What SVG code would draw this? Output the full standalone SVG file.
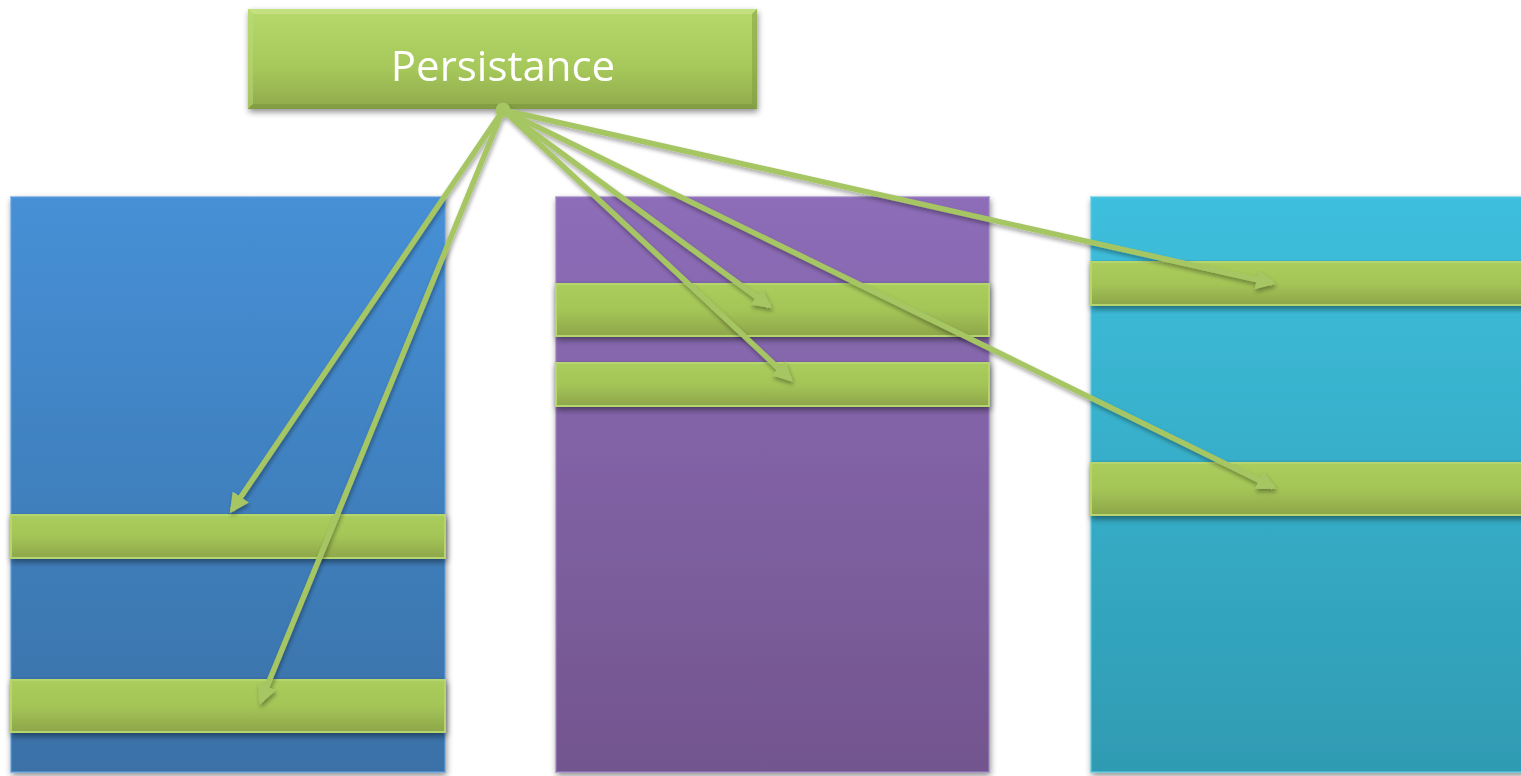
<svg xmlns="http://www.w3.org/2000/svg" width="1521" height="776" viewBox="0 0 1521 776">
  <defs>
    <linearGradient id="gBlue" x1="0" y1="0" x2="0" y2="1">
      <stop offset="0" stop-color="#4690d6"/>
      <stop offset="1" stop-color="#3a71a7"/>
    </linearGradient>
    <linearGradient id="gPurple" x1="0" y1="0" x2="0" y2="1">
      <stop offset="0" stop-color="#8d6db8"/>
      <stop offset="1" stop-color="#72558e"/>
    </linearGradient>
    <linearGradient id="gCyan" x1="0" y1="0" x2="0" y2="1">
      <stop offset="0" stop-color="#3ebfdd"/>
      <stop offset="1" stop-color="#2f9bb2"/>
    </linearGradient>
    <linearGradient id="gBar" x1="0" y1="0" x2="0" y2="1">
      <stop offset="0" stop-color="#aacd5c"/>
      <stop offset="0.5" stop-color="#a4c557"/>
      <stop offset="1" stop-color="#8ea64a"/>
    </linearGradient>
    <linearGradient id="gHead" x1="0" y1="0" x2="0" y2="1">
      <stop offset="0" stop-color="#b7d96b"/>
      <stop offset="0.6" stop-color="#a6c75a"/>
      <stop offset="1" stop-color="#8faa4c"/>
    </linearGradient>
    <filter id="shadow" x="-10%" y="-10%" width="120%" height="130%">
      <feGaussianBlur in="SourceAlpha" stdDeviation="3"/>
      <feOffset dx="1" dy="3" result="b"/>
      <feComponentTransfer><feFuncA type="linear" slope="0.45"/></feComponentTransfer>
      <feMerge><feMergeNode/><feMergeNode in="SourceGraphic"/></feMerge>
    </filter>
    <filter id="lineShadow" x="-10%" y="-10%" width="120%" height="120%">
      <feGaussianBlur in="SourceAlpha" stdDeviation="2"/>
      <feOffset dx="1" dy="3" result="b"/>
      <feComponentTransfer><feFuncA type="linear" slope="0.35"/></feComponentTransfer>
      <feMerge><feMergeNode/><feMergeNode in="SourceGraphic"/></feMerge>
    </filter>
    <marker id="arrow" viewBox="0 0 10 10" refX="8" refY="5" markerWidth="3.6" markerHeight="3.6" orient="auto" markerUnits="strokeWidth">
      <path d="M0,0 L10,5 L0,10 Z" fill="#a6c663"/>
    </marker>
    <style>
      .col { stroke-opacity: 0.6; stroke-width: 2; }
      .bar { fill: url(#gBar); stroke: #b5d66e; stroke-width: 2; }
      .link { stroke: #a6c663; stroke-width: 5.5; fill: none; marker-end: url(#arrow); }
      .label { font-family: "Open Sans", "Liberation Sans", sans-serif; font-size: 42px; fill: #ffffff; }
    </style>
  </defs>

  <rect width="1521" height="776" fill="#ffffff"/>

  <!-- left column -->
  <g id="column-left" filter="url(#shadow)">
    <rect class="col" x="11" y="197" width="434" height="575" fill="url(#gBlue)" stroke="#5d9ee0"/>
  </g>
  <!-- middle column -->
  <g id="column-middle" filter="url(#shadow)">
    <rect class="col" x="556" y="197" width="433" height="575" fill="url(#gPurple)" stroke="#9b80c2"/>
  </g>
  <!-- right column -->
  <g id="column-right" filter="url(#shadow)">
    <rect class="col" x="1091" y="197" width="440" height="575" fill="url(#gCyan)" stroke="#5acbe3"/>
  </g>

  <!-- slots -->
  <g id="slot-left-1" filter="url(#shadow)"><rect class="bar" x="11" y="515" width="434" height="43"/></g>
  <g id="slot-left-2" filter="url(#shadow)"><rect class="bar" x="11" y="680" width="434" height="52"/></g>
  <g id="slot-middle-1" filter="url(#shadow)"><rect class="bar" x="556" y="284" width="433" height="52"/></g>
  <g id="slot-middle-2" filter="url(#shadow)"><rect class="bar" x="556" y="363" width="433" height="43"/></g>
  <g id="slot-right-1" filter="url(#shadow)"><rect class="bar" x="1091" y="262" width="440" height="43"/></g>
  <g id="slot-right-2" filter="url(#shadow)"><rect class="bar" x="1091" y="463" width="440" height="52"/></g>

  <!-- header -->
  <g id="persistance" filter="url(#shadow)">
    <rect x="248" y="9" width="509" height="100" fill="url(#gHead)"/>
    <!-- bevel edges -->
    <polygon points="248,9 757,9 752,14 253,14" fill="#cde68f" opacity="0.6"/>
    <polygon points="248,9 253,14 253,104 248,109" fill="#bcd97a" opacity="0.5"/>
    <polygon points="757,9 757,109 752,104 752,14" fill="#7f9a40" opacity="0.5"/>
    <polygon points="248,109 757,109 752,104 253,104" fill="#7b953d" opacity="0.6"/>
    <text class="label" x="503" y="81" text-anchor="middle">Persistance</text>
  </g>

  <!-- connectors -->
  <g id="connectors" filter="url(#lineShadow)">
    <line class="link" x1="503" y1="110" x2="232" y2="510"/>
    <line class="link" x1="503" y1="110" x2="261" y2="701"/>
    <line class="link" x1="503" y1="110" x2="769" y2="306"/>
    <line class="link" x1="503" y1="110" x2="790" y2="379"/>
    <line class="link" x1="503" y1="110" x2="1272" y2="283"/>
    <line class="link" x1="503" y1="110" x2="1273" y2="487"/>
    <circle cx="503" cy="110" r="7.5" fill="#a6c663"/>
  </g>
</svg>
